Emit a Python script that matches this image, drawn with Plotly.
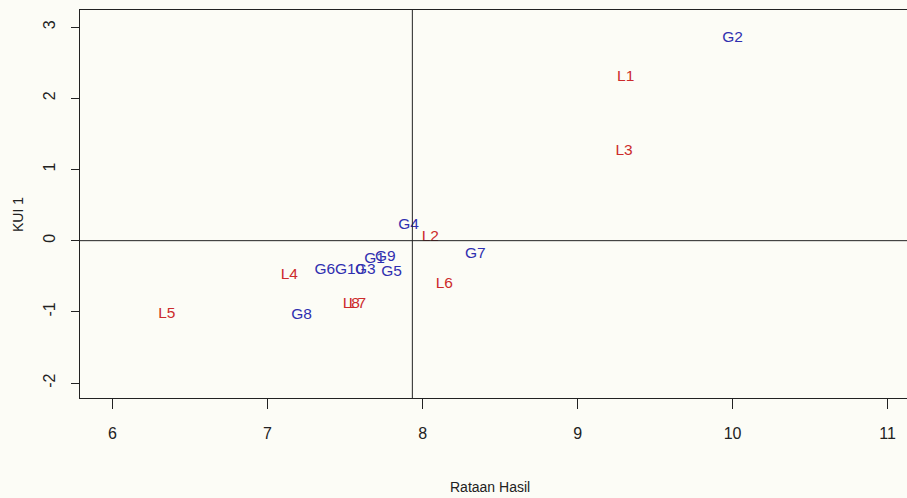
import plotly.graph_objects as go

# Genotype (G) and location (L) scores: mean yield vs first interaction axis
genotypes = ["G1", "G2", "G3", "G4", "G5", "G6", "G7", "G8", "G9", "G10"]
geno_yield = [7.69, 10.00, 7.63, 7.91, 7.80, 7.37, 8.34, 7.22, 7.76, 7.53]
geno_kui1 = [-0.26, 2.85, -0.42, 0.22, -0.44, -0.42, -0.19, -1.05, -0.23, -0.42]

locations = ["L1", "L2", "L3", "L4", "L5", "L6", "L7", "L8"]
loc_yield = [9.31, 8.05, 9.30, 7.14, 6.35, 8.14, 7.58, 7.54]
loc_kui1 = [2.30, 0.05, 1.26, -0.49, -1.03, -0.61, -0.89, -0.89]

grand_mean = 7.934

x_ticks = [6, 7, 8, 9, 10, 11]
y_ticks = [-2, -1, 0, 1, 2, 3]

blue = "#2f2fb0"
red = "#cc2b2b"
font_family = "Liberation Sans, Arial, sans-serif"

fig = go.Figure()
fig.add_trace(go.Scatter(
    x=geno_yield, y=geno_kui1, text=genotypes, mode="text",
    textposition="middle center",
    textfont=dict(family=font_family, size=15.5, color=blue),
    hoverinfo="text", showlegend=False,
))
fig.add_trace(go.Scatter(
    x=loc_yield, y=loc_kui1, text=locations, mode="text",
    textposition="middle center",
    textfont=dict(family=font_family, size=15.5, color=red),
    hoverinfo="text", showlegend=False,
))

# reference lines through the grand mean and zero interaction
fig.add_shape(type="line", xref="x", yref="paper", x0=grand_mean, x1=grand_mean,
              y0=0, y1=1, line=dict(color="#222222", width=1))
fig.add_shape(type="line", xref="paper", yref="y", x0=0, x1=1, y0=0, y1=0,
              line=dict(color="#222222", width=1))

fig.update_layout(
    width=907, height=498,
    margin=dict(l=80, r=0, t=10, b=100),
    paper_bgcolor="#fcfcf6", plot_bgcolor="#fcfcf6",
    font=dict(family=font_family, size=14, color="#222222"),
    xaxis=dict(
        range=[5.79, 11.125], tickvals=x_ticks, ticktext=[str(v) for v in x_ticks],
        showgrid=False, zeroline=False, showline=True, linecolor="#222222",
        linewidth=1, mirror=True, ticks="outside", ticklen=10, tickcolor="#222222",
        ticklabelstandoff=11, tickfont=dict(size=16),
    ),
    yaxis=dict(
        range=[-2.21, 3.24], tickvals=y_ticks, ticktext=[str(v) for v in y_ticks],
        showgrid=False, zeroline=False, showline=True, linecolor="#222222",
        linewidth=1, ticks="outside", ticklen=8, tickcolor="#222222",
        tickangle=-90, ticklabelstandoff=10, tickfont=dict(size=16),
    ),
    annotations=[
        dict(text="Rataan Hasil", xref="paper", yref="paper", x=(490 - 80) / 827,
             y=-89 / 388, showarrow=False, font=dict(size=14),
             xanchor="center", yanchor="middle"),
        dict(text="KUI 1", xref="paper", yref="paper", x=-62 / 827,
             y=(398 - 215) / 388, showarrow=False, font=dict(size=14),
             textangle=-90, xanchor="center", yanchor="middle"),
    ],
)

fig.write_html("out.html")
